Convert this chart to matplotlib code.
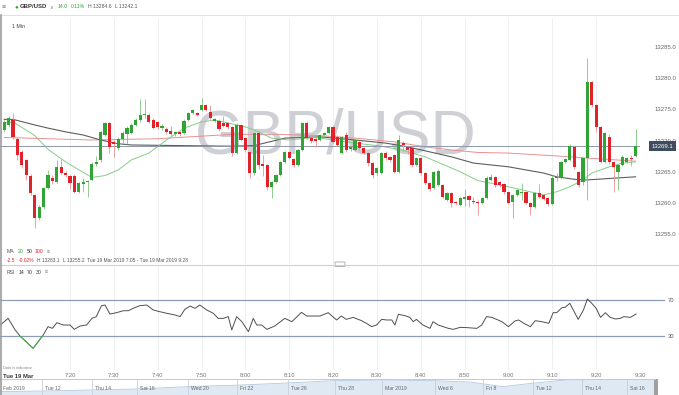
import numpy as np
import matplotlib
matplotlib.use("Agg")
import matplotlib.pyplot as plt
from matplotlib import font_manager
from matplotlib.patches import Rectangle, FancyBboxPatch
from matplotlib.lines import Line2D
from matplotlib.transforms import blended_transform_factory

# ---------------------------------------------------------------- data
symbol = "GBP/USD"
interval_label = "1 Min"
tick_labels = ["7:20", "7:30", "7:40", "7:50", "8:00", "8:10", "8:20",
               "8:30", "8:40", "8:50", "9:00", "9:10", "9:20", "9:30"]
first_candle_time = "7:05"
price_ticks = [13255.0, 13260.0, 13265.0, 13270.0, 13275.0, 13280.0, 13285.0]
last_price = 13269.1

opens = [13271.7, 13272.5, 13273.3, 13270.3, 13268.2, 13266.9, 13264.3, 13261.3, 13257.6, 13259.4,
         13262.4, 13264.0, 13263.4, 13265.8, 13264.8, 13264.3, 13264.3, 13261.8, 13263.1, 13263.3,
         13263.7, 13266.3, 13266.9, 13270.9, 13272.8, 13269.8, 13268.8, 13270.3, 13271.0, 13271.2,
         13272.5, 13273.3, 13274.1, 13274.1, 13273.3, 13273.0, 13272.0, 13271.9, 13271.6, 13271.1,
         13271.3, 13271.2, 13273.3, 13274.4, 13274.4, 13274.9, 13275.7, 13274.6, 13273.2, 13273.2,
         13272.8, 13272.8, 13272.2, 13268.0, 13272.5, 13270.4, 13268.2, 13264.8, 13271.2, 13266.2,
         13266.1, 13262.6, 13263.4, 13264.5, 13266.6, 13268.2, 13267.0, 13266.1, 13268.5, 13272.8,
         13270.4, 13270.3, 13270.1, 13270.9, 13271.2, 13272.1, 13270.6, 13268.0, 13270.9, 13268.7,
         13268.5, 13269.8, 13268.8, 13268.0, 13266.4, 13264.8, 13264.8, 13268.0, 13267.4, 13267.7,
         13265.0, 13269.6, 13269.0, 13268.8, 13266.1, 13267.2, 13264.8, 13263.2, 13262.4, 13262.9,
         13262.9, 13260.5, 13261.6, 13260.2, 13259.7, 13260.7, 13261.1, 13260.3, 13260.2, 13260.0,
         13260.8, 13263.7, 13264.2, 13263.3, 13263.0, 13261.8, 13260.2, 13261.3, 13261.6, 13261.7,
         13260.0, 13259.4, 13261.6, 13261.3, 13260.8, 13259.9, 13264.0, 13264.0, 13266.6, 13266.9,
         13269.0, 13265.0, 13263.4, 13267.2, 13279.4, 13275.7, 13272.2, 13266.6, 13270.6, 13266.6,
         13265.0, 13266.1, 13266.6, 13267.2, 13267.5]
closes = [13273.0, 13273.6, 13270.6, 13267.7, 13266.1, 13264.5, 13261.6, 13257.6, 13259.4, 13262.4,
          13264.5, 13263.5, 13265.8, 13264.8, 13264.5, 13263.2, 13261.8, 13263.2, 13263.4, 13263.5,
          13266.3, 13266.6, 13271.4, 13272.8, 13269.0, 13269.5, 13270.3, 13271.2, 13272.0, 13272.5,
          13273.3, 13274.1, 13274.3, 13273.0, 13272.0, 13272.2, 13272.3, 13271.3, 13271.0, 13271.3,
          13271.0, 13273.1, 13274.4, 13274.9, 13274.1, 13275.7, 13274.9, 13273.6, 13273.4, 13271.9,
          13272.3, 13272.2, 13268.0, 13272.5, 13270.1, 13268.5, 13264.8, 13271.2, 13266.1, 13266.0,
          13262.6, 13263.4, 13264.5, 13266.6, 13268.2, 13267.2, 13266.1, 13268.5, 13272.8, 13270.4,
          13269.9, 13270.0, 13270.9, 13271.2, 13272.1, 13269.8, 13269.3, 13270.6, 13268.5, 13268.9,
          13270.1, 13268.8, 13268.0, 13266.4, 13264.5, 13265.6, 13268.0, 13267.2, 13266.9, 13265.0,
          13270.1, 13269.3, 13268.5, 13266.1, 13267.2, 13264.8, 13263.2, 13262.2, 13265.0, 13265.2,
          13261.0, 13261.6, 13260.0, 13260.0, 13260.8, 13260.9, 13260.5, 13260.1, 13260.0, 13260.8,
          13264.0, 13264.2, 13262.9, 13262.9, 13261.8, 13260.0, 13261.3, 13262.1, 13261.7, 13260.0,
          13259.4, 13261.6, 13261.0, 13260.7, 13259.8, 13264.0, 13264.2, 13266.6, 13267.0, 13269.1,
          13265.7, 13262.9, 13267.2, 13279.4, 13275.7, 13272.2, 13266.6, 13271.2, 13266.6, 13265.8,
          13266.1, 13267.4, 13267.2, 13267.0, 13269.1]
highs = [13273.3, 13273.9, 13274.4, 13270.5, 13268.5, 13267.1, 13264.6, 13261.5, 13259.7, 13262.6,
         13265.3, 13264.5, 13266.9, 13267.0, 13265.1, 13264.5, 13264.6, 13263.4, 13264.0, 13263.7,
         13266.5, 13267.5, 13271.6, 13273.0, 13273.0, 13270.1, 13270.6, 13271.5, 13272.3, 13272.8,
         13273.6, 13276.7, 13276.6, 13274.4, 13273.6, 13273.2, 13272.6, 13272.2, 13272.4, 13271.6,
         13271.5, 13273.4, 13274.6, 13275.1, 13274.6, 13276.8, 13275.9, 13275.7, 13273.6, 13273.4,
         13274.0, 13273.0, 13272.4, 13272.8, 13272.7, 13270.6, 13268.4, 13271.4, 13271.4, 13267.7,
         13266.3, 13263.6, 13264.7, 13266.8, 13268.4, 13268.4, 13267.2, 13268.7, 13273.0, 13273.2,
         13270.6, 13270.5, 13271.1, 13271.4, 13272.3, 13272.3, 13270.9, 13270.8, 13271.3, 13269.2,
         13270.3, 13270.0, 13269.0, 13268.2, 13266.6, 13265.8, 13268.2, 13268.3, 13267.6, 13267.9,
         13270.9, 13269.9, 13269.2, 13269.0, 13267.4, 13267.4, 13265.0, 13263.4, 13265.2, 13265.4,
         13263.1, 13261.8, 13261.8, 13260.4, 13261.0, 13262.3, 13261.3, 13260.9, 13260.5, 13261.0,
         13264.4, 13264.6, 13264.4, 13263.5, 13263.2, 13262.0, 13261.5, 13262.3, 13263.2, 13261.9,
         13260.2, 13261.8, 13263.0, 13261.5, 13261.0, 13264.5, 13264.8, 13266.8, 13267.2, 13269.4,
         13269.2, 13265.2, 13267.4, 13283.2, 13279.6, 13275.9, 13272.4, 13271.4, 13271.1, 13266.8,
         13266.3, 13267.7, 13267.4, 13267.7, 13271.8]
lows = [13271.4, 13272.2, 13270.3, 13266.9, 13265.6, 13263.7, 13261.3, 13256.0, 13257.3, 13259.0,
        13262.2, 13263.0, 13263.2, 13264.6, 13264.2, 13262.2, 13261.6, 13261.6, 13261.7, 13261.0,
        13263.5, 13266.0, 13266.5, 13270.7, 13268.0, 13267.4, 13268.5, 13269.6, 13269.5, 13271.0,
        13272.3, 13273.0, 13273.7, 13272.8, 13271.8, 13271.9, 13271.7, 13271.0, 13270.8, 13270.8,
        13270.7, 13271.0, 13273.1, 13274.2, 13273.9, 13274.7, 13274.7, 13273.4, 13273.0, 13271.6,
        13272.1, 13271.9, 13267.5, 13267.8, 13269.9, 13268.2, 13264.0, 13264.5, 13265.5, 13264.3,
        13262.1, 13260.8, 13263.2, 13264.3, 13266.4, 13267.0, 13265.8, 13265.9, 13268.3, 13270.2,
        13269.6, 13269.0, 13269.9, 13270.6, 13271.0, 13269.6, 13269.1, 13267.8, 13268.2, 13268.4,
        13268.3, 13268.5, 13267.8, 13266.0, 13264.0, 13264.5, 13264.6, 13266.9, 13266.5, 13264.8,
        13264.8, 13268.3, 13267.9, 13265.8, 13265.9, 13264.5, 13262.9, 13261.9, 13262.2, 13262.7,
        13260.8, 13260.3, 13259.3, 13259.7, 13259.5, 13259.5, 13259.4, 13259.8, 13258.0, 13259.8,
        13260.6, 13263.5, 13262.5, 13262.6, 13261.4, 13259.8, 13257.6, 13261.1, 13260.5, 13259.8,
        13258.1, 13259.2, 13260.8, 13260.5, 13259.5, 13259.7, 13263.5, 13263.8, 13266.4, 13266.7,
        13265.5, 13262.6, 13262.9, 13260.5, 13275.4, 13271.4, 13266.4, 13266.4, 13266.3, 13261.8,
        13262.1, 13265.9, 13266.4, 13265.9, 13267.3]

# moving averages (candle index, price)
ma20_idx = [0, 2, 7, 10, 14, 18, 20, 23, 26, 29, 33, 37, 41, 45, 48, 55, 57, 61, 65, 71,
            80, 85, 90, 96, 104, 108, 115, 123, 126, 129, 132, 134, 138, 141, 144]
ma20_val = [13272.8, 13273.0, 13270.8, 13268.6, 13266.6, 13264.9, 13264.1, 13264.4, 13265.3, 13266.9,
            13268.0, 13270.1, 13272.0, 13273.0, 13273.3, 13272.2, 13271.7, 13270.4, 13270.1, 13270.5,
            13269.6, 13269.2, 13268.6, 13267.4, 13265.0, 13263.6, 13262.6, 13261.3, 13261.8, 13262.6,
            13263.7, 13264.8, 13265.8, 13266.4, 13266.6]
ma50_idx = [0, 2, 7, 10, 14, 18, 22, 26, 29, 40, 52, 57, 64, 72, 80, 87, 92, 102, 107, 115,
            123, 126, 130, 133, 144]
ma50_val = [13273.4, 13273.4, 13272.5, 13272.0, 13271.4, 13270.9, 13270.1, 13269.5, 13269.3, 13269.2,
            13269.1, 13269.2, 13270.4, 13270.6, 13270.1, 13269.6, 13269.0, 13267.4, 13266.4, 13265.8,
            13264.8, 13264.2, 13263.8, 13263.7, 13264.2]
ma100_idx = [0, 20, 35, 52, 62, 72, 80, 89, 96, 102, 108, 115, 127, 133, 144]
ma100_val = [13270.5, 13270.1, 13270.3, 13271.0, 13271.0, 13270.8, 13270.4, 13269.8, 13269.0, 13268.5,
             13268.1, 13268.0, 13267.5, 13267.2, 13266.7]

# RSI(14) (candle index, value)
rsi_idx = [-0.9, 0.9, 2.5, 3.6, 6.6, 8.9, 10, 11, 12, 13.5, 15, 16, 17.3, 18.8, 20, 21, 22.2, 23,
           24.1, 25.6, 27.2, 28.3, 29.4, 30.9, 32.5, 34, 35.5, 37.1, 39, 40.1, 41.2, 42.4, 43.5,
           44.6, 46.2, 47.7, 48.8, 50, 51.1, 51.9, 53, 54.2, 55.7, 56.8, 57.6, 58.7, 59.9, 61.7,
           64, 65.6, 67.8, 69, 72, 73.9, 75.8, 76.9, 78, 79.6, 81.5, 82.6, 83.8, 84.9, 86.1, 87.2,
           88.4, 89.1, 89.9, 91.4, 92.5, 93.3, 94, 95.5, 97.1, 97.8, 99, 100.1, 101.3, 102.4, 104,
           105.5, 107.8, 108.9, 110, 111.2, 112.3, 113.5, 115, 116.5, 117.3, 118.8, 120, 121.1,
           122.6, 124.2, 125.2, 126, 127.2, 127.9, 129, 130.9, 132.1, 133, 134, 135, 136, 137.1,
           138.2, 139.4, 140.5, 141.3, 142.8, 144.1]
rsi_val = [42.2, 49.6, 36.7, 30.0, 16.3, 31.1, 40.4, 38.5, 44.8, 42.2, 42.2, 37.4, 41.1, 42.2, 49.6,
           51.5, 63.7, 64.4, 54.4, 55.9, 58.1, 58.1, 60.7, 63.7, 64.4, 58.9, 57.0, 55.2, 53.3, 51.5,
           59.6, 63.3, 60.7, 64.4, 58.9, 55.2, 49.6, 49.6, 51.5, 36.7, 51.5, 45.9, 34.8, 49.6, 42.2,
           42.2, 37.4, 41.1, 49.6, 45.9, 56.3, 52.2, 52.2, 55.9, 47.8, 52.2, 48.5, 50.7, 47.0, 44.1,
           40.4, 42.2, 48.5, 47.8, 47.8, 42.2, 54.1, 52.6, 50.7, 45.9, 48.5, 42.2, 38.5, 45.9, 42.2,
           40.4, 38.5, 37.4, 39.6, 39.3, 38.5, 42.2, 51.5, 50.7, 48.5, 45.9, 40.4, 46.7, 47.8, 43.3,
           40.4, 47.0, 45.9, 44.1, 55.9, 55.9, 61.5, 61.9, 66.3, 48.5, 58.9, 71.1, 66.3, 60.7, 50.7,
           55.9, 50.7, 48.9, 49.6, 51.5, 50.7, 54.4]
rsi_upper, rsi_lower = 70, 30

# navigator strip (relative position, relative level)
nav_pos = [0.0, 0.066, 0.137, 0.206, 0.285, 0.366, 0.438, 0.511, 0.588, 0.656, 0.718, 0.768,
           0.809, 0.863, 0.916, 1.0]
nav_level = [0.21, 0.25, 0.31, 0.37, 0.52, 0.62, 0.75, 0.90, 0.94, 0.90, 0.81, 0.52, 0.72, 0.94,
             0.97, 0.97]
nav_labels = ["Feb 2019", "Tue 12", "Thu 14", "Sat 16", "Wed 20", "Fri 22", "Tue 26", "Thu 28",
              "Mar 2019", "Wed 6", "Fri 8", "Tue 12", "Thu 14", "Sat 16"]
nav_starts = [0.0, 0.064, 0.140, 0.209, 0.287, 0.362, 0.440, 0.511, 0.583, 0.664, 0.737, 0.814,
              0.889, 0.957]

# ---------------------------------------------------------------- layout / style
W, H = 679, 395
fig = plt.figure(figsize=(W / 100, H / 100), dpi=100)
fig.patch.set_facecolor("white")

names = {f.name for f in font_manager.fontManager.ttflist}
UI = "Liberation Sans" if "Liberation Sans" in names else "DejaVu Sans"
WMF = "Liberation Sans Narrow" if "Liberation Sans Narrow" in names else UI
plt.rcParams["font.family"] = [UI, "DejaVu Sans"]

GREEN, RED = "#30a535", "#e2222b"
GREEN_W, RED_W = "#7fc47f", "#ee8f93"
GRID = "#ededed"


def rect_px(x0, y0, x1, y1):
    return [x0 / W, 1 - y1 / H, (x1 - x0) / W, (y1 - y0) / H]


renderer = fig.canvas.get_renderer()


def ftext(x, y, s, size=3.8, color="#444", weight="normal", ha="left"):
    return fig.text(x / W, 1 - y / H, s, fontsize=size, color=color, fontweight=weight,
                    ha=ha, va="center", family=[UI, "DejaVu Sans"])


def seq(x, y, pieces, size=3.8, gap=3.5):
    for s, col, wt in pieces:
        tt = ftext(x, y, s, size=size, color=col, weight=wt)
        x += tt.get_window_extent(renderer).width + gap


def hmin(label):
    h, m = label.split(":")
    return int(h) * 60 + int(m)


t0 = hmin(first_candle_time)
tick_pos = [hmin(s) - t0 for s in tick_labels]

STEP, X0PX = 4.385, 4.2          # px per candle, px of first candle
PLOT_R = 640
xlim = ((0 - X0PX) / STEP, (PLOT_R - X0PX) / STEP)
PPU, ANCHOR_Y = 6.24, 47          # px per price unit, px of top tick


def p_at(ypx):
    return price_ticks[-1] - (ypx - ANCHOR_Y) / PPU


# ---------------------------------------------------------------- price panel
ax = fig.add_axes(rect_px(0, 18, PLOT_R, 264))
ax.set_xlim(*xlim)
ax.set_ylim(p_at(264), p_at(18))
ax.set_facecolor("none")
for sp in ax.spines.values():
    sp.set_visible(False)
ax.set_xticks(tick_pos)
ax.grid(axis="x", color=GRID, lw=0.6)
ax.set_axisbelow(True)
ax.tick_params(axis="x", length=0, labelbottom=False)
ax.yaxis.tick_right()
ax.set_yticks(price_ticks)
ax.set_yticklabels([f"{v:.1f}" for v in price_ticks])
ax.tick_params(axis="y", length=0, pad=10.5, labelsize=4.3, labelcolor="#666")

# watermark
wm_x = (336 - X0PX) / STEP
wm = ax.text(wm_x, p_at(137), symbol, fontsize=60, family=[WMF, "DejaVu Sans"],
             color="#cfd0d5", ha="center", va="center", zorder=1)
bw = wm.get_window_extent(renderer).width
wm.set_fontsize(60 * 282 / bw)

# moving averages
ax.plot(ma100_idx, ma100_val, color="#e79193", lw=0.7, zorder=2)
ax.plot(ma50_idx, ma50_val, color="#5e5e5e", lw=0.8, zorder=2)
ax.plot(ma20_idx, ma20_val, color="#86cc86", lw=0.7, zorder=2)

# last price line + tag
ax.axhline(last_price, color="#8c97aa", lw=0.7, zorder=2.5)
ytr = blended_transform_factory(ax.transAxes, ax.transData)
ax.text(652 / PLOT_R, last_price, f"{last_price:.1f}", transform=ytr, fontsize=4.3,
        color="white", va="center", ha="left", zorder=10, clip_on=False,
        bbox=dict(boxstyle="square,pad=0.45", fc="#3f4c60", ec="none"))

# candles
o = np.array(opens); c = np.array(closes); hi = np.array(highs); lo = np.array(lows)
idx = np.arange(len(o))
up = c >= o
ax.vlines(idx, lo, hi, colors=np.where(up, GREEN_W, RED_W), lw=0.6, zorder=3)
ax.bar(idx, np.maximum(np.abs(c - o), 0.18), bottom=np.minimum(o, c), width=0.72,
       color=np.where(up, GREEN, RED), linewidth=0, zorder=4)

# ---------------------------------------------------------------- RSI panel
RSI_PPU = 0.9
axr = fig.add_axes(rect_px(0, 265, PLOT_R, 370))
axr.set_xlim(*xlim)
axr.set_ylim(rsi_upper - (370 - 300) / RSI_PPU, rsi_upper + (300 - 265) / RSI_PPU)
axr.set_facecolor("none")
for sp in axr.spines.values():
    sp.set_visible(False)
axr.set_xticks(tick_pos)
axr.set_xticklabels(tick_labels)
axr.tick_params(axis="x", length=0, pad=2.5, labelsize=4.2, labelcolor="#777")
axr.set_yticks([])
axr.grid(axis="x", color=GRID, lw=0.6)
axr.set_axisbelow(True)
rtr = blended_transform_factory(axr.transAxes, axr.transData)
for lvl in (rsi_upper, rsi_lower):
    axr.plot([0, 664 / PLOT_R], [lvl, lvl], transform=rtr, color="#8d9db6", lw=0.9,
             clip_on=False, zorder=2)
    axr.text(668 / PLOT_R, lvl, str(lvl), transform=rtr, fontsize=4.2, color="#555",
             va="center", ha="left", clip_on=False)
axr.plot(rsi_idx, rsi_val, color="#4f4f4f", lw=0.7, zorder=3)
low_line, = axr.plot(rsi_idx, rsi_val, color="#4fb24f", lw=0.8, zorder=4)
clip = Rectangle((xlim[0], -100), xlim[1] - xlim[0], 100 + rsi_lower, transform=axr.transData)
low_line.set_clip_path(clip)

# ---------------------------------------------------------------- navigator
axn = fig.add_axes(rect_px(0, 379, 655, 395))
axn.set_xlim(0, 1)
axn.set_ylim(0, 1)
axn.axis("off")
axn.fill_between(nav_pos, 0, nav_level, color="#dfe9f4", lw=0)
axn.plot(nav_pos, nav_level, color="#b3c8df", lw=0.6)
for s, lab in zip(nav_starts, nav_labels):
    if s > 0:
        axn.axvline(s, color="#c5ced9", lw=0.6)
    axn.text(s + 3 / 655, 0.38, lab, fontsize=3.7, color="#666", va="center", ha="left")

# ---------------------------------------------------------------- chrome / texts
fig.add_artist(Line2D([0, 1], [1 - 15 / H] * 2, transform=fig.transFigure, color="#e2e2e2", lw=0.7))
fig.add_artist(Line2D([0, 1], [1 - 264.5 / H] * 2, transform=fig.transFigure, color="#d0d0d0", lw=0.8))
fig.add_artist(Line2D([0, 655 / W], [1 - 379 / H] * 2, transform=fig.transFigure, color="#c9c9c9", lw=0.7))
fig.add_artist(Line2D([0.8 / W] * 2, [0, 1 - 15 / H], transform=fig.transFigure, color="#9c9c9c", lw=1.2))
fig.add_artist(Rectangle((654 / W, 0), 4 / W, 16 / H, transform=fig.transFigure, color="#a0a0a0", lw=0))
fig.add_artist(FancyBboxPatch((335 / W, 1 - 266.5 / H), 10 / W, 4.5 / H, boxstyle="round,pad=0",
                              transform=fig.transFigure, fc="white", ec="#a8a8a8", lw=0.6))

# header
ftext(2, 7, "\u2261", size=5, color="#777")
ftext(14, 7, "\u25cf", size=4.5, color=GREEN)
ftext(20, 7, symbol, size=4.3, color="#333", weight="bold")
ftext(49, 7.5, "\u2228", size=3.6, color="#777")
seq(58, 7, [("14.0", GREEN, "normal"), ("0.11%", GREEN, "normal"),
            ("H 13284.6", "#555", "normal"), ("L 13242.1", "#555", "normal")], size=3.7, gap=3)
ftext(12, 27, interval_label, size=3.8, color="#444")

# MA legend rows
seq(7, 252, [("MA", "#555", "normal"), ("20", GREEN, "normal"), ("50", "#333", "normal"),
             ("100", RED, "normal"), ("\u2261", "#777", "normal")], size=3.7, gap=3)
seq(7, 260.5, [("-2.5", RED, "normal"), ("-0.02%", RED, "normal"), ("H 13283.1", "#555", "normal"),
               ("L 13255.2", "#555", "normal"),
               ("Tue 19 Mar 2019 7:05 - Tue 19 Mar 2019 9:28", "#555", "normal")], size=3.5, gap=3)
seq(7, 272, [("RSI", "#555", "normal"), ("14", "#333", "normal"), ("70", "#333", "normal"),
             ("30", "#333", "normal"), ("\u2261", "#777", "normal")], size=3.7, gap=3)

ftext(3, 368, "Data is indicative", size=2.8, color="#888")
ftext(3, 376, "Tue 19 Mar", size=4.2, color="#333", weight="bold")

fig.savefig("out.png", dpi=100, facecolor="white")
